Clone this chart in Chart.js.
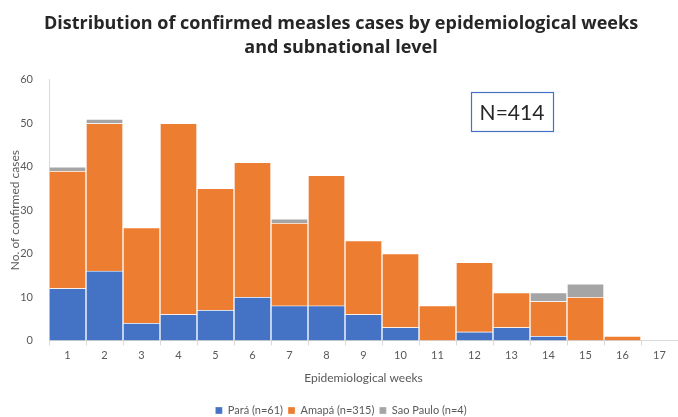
<!DOCTYPE html>
<html>
<head>
<meta charset="utf-8">
<script src="https://cdn.jsdelivr.net/npm/chart.js@4/dist/chart.umd.min.js"></script>
<style>
  html, body { margin: 0; padding: 0; background: #fff; }
  #wrap { width: 678px; height: 417px; position: relative; }
</style>
</head>
<body>
<div id="wrap"><canvas id="chart"></canvas></div>
<script>
'use strict';

// ── Data ────────────────────────────────────────────────
const weeks    = ['1','2','3','4','5','6','7','8','9','10','11','12','13','14','15','16','17'];
const para     = [12, 16, 4, 6, 7, 10, 8, 8, 6, 3, 0, 2, 3, 1, 0, 0, 0];
const amapa    = [27, 34, 22, 44, 28, 31, 19, 30, 17, 17, 8, 16, 8, 8, 10, 1, 0];
const saoPaulo = [1, 1, 0, 0, 0, 0, 1, 0, 0, 0, 0, 0, 0, 2, 3, 0, 0];
const yTicks   = [0, 10, 20, 30, 40, 50, 60];

const FONT = "Lato, 'Open Sans', sans-serif";
const GREY = '#595959';

// ── N=414 box ───────────────────────────────────────────
const nBox = {
    id: 'nBox',
    afterDraw(chart) {
        const c = chart.ctx;
        c.save();
        c.strokeStyle = '#4472C4';
        c.lineWidth = 1.2;
        c.strokeRect(471.5, 92.5, 82, 39);
        c.fillStyle = '#262626';
        c.font = `21px ${FONT}`;
        c.textAlign = 'center';
        c.textBaseline = 'middle';
        c.fillText('N=414', 512, 113);
        c.restore();
    }
};

const ds = (label, data, color) => ({
    label, data,
    backgroundColor: color,
    borderColor: 'rgba(255,255,255,0.3)',
    borderWidth: 1,
    barPercentage: 1,
    categoryPercentage: 1,
});

new Chart(document.getElementById('chart'), {
    type: 'bar',
    data: {
        labels: weeks,
        datasets: [
            ds('Pará (n=61)', para, '#4472C4'),
            ds('Amapá (n=315)', amapa, '#ED7D31'),
            ds('Sao Paulo (n=4)', saoPaulo, '#A5A5A5'),
        ]
    },
    options: {
        responsive: true, maintainAspectRatio: false, animation: false,
        layout: { padding: { left: 4, right: 0, top: 0, bottom: -9 } },
        plugins: {
            title: {
                display: true,
                text: ['Distribution of confirmed measles cases by epidemiological weeks', 'and subnational level'],
                color: '#262626',
                font: { family: "'Open Sans', sans-serif", size: 18, weight: 'bold', lineHeight: 1.33 },
                padding: { top: 12, bottom: 20 }
            },
            legend: {
                position: 'bottom',
                labels: {
                    color: GREY, boxWidth: 7, boxHeight: 7, padding: 5,
                    font: { family: FONT, size: 11 }
                }
            },
            tooltip: { enabled: false }
        },
        scales: {
            x: {
                stacked: true,
                grid: { display: true, drawOnChartArea: false, color: '#D9D9D9', tickLength: 5, offset: true },
                border: { color: '#D9D9D9' },
                ticks: { color: GREY, font: { family: FONT, size: 11 }, maxRotation: 0 },
                title: { display: true, text: 'Epidemiological weeks', color: GREY, font: { family: FONT, size: 12 }, padding: { top: 6, bottom: 15 } }
            },
            y: {
                stacked: true,
                min: 0, max: 60,
                afterBuildTicks: axis => { axis.ticks = yTicks.map(v => ({ value: v })); },
                afterFit: axis => { axis.width = 45; },
                grid: { display: false },
                border: { color: '#D9D9D9' },
                ticks: { color: GREY, font: { family: FONT, size: 11 }, padding: 8 },
                title: { display: true, text: 'No. of confirmed cases', color: GREY, font: { family: FONT, size: 12 } }
            }
        }
    },
    plugins: [nBox]
});
</script>
</body>
</html>
